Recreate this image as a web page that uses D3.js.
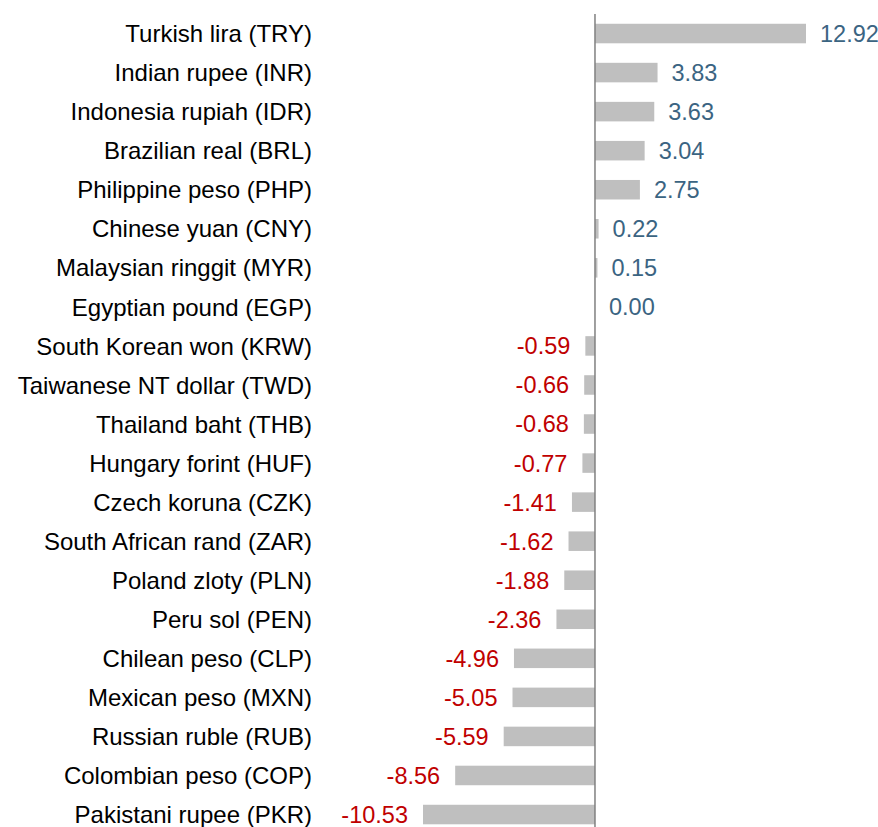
<!DOCTYPE html>
<html>
<head>
<meta charset="utf-8">
<script src="https://cdn.jsdelivr.net/npm/d3@7"></script>
<style>
  body { margin: 0; background: #fff; }
  text { font-family: "Liberation Sans", Arial, sans-serif; }
</style>
</head>
<body>
<div class="chart"></div>
<script>
// currency names and % change, top to bottom
var currencies = [
  "Turkish lira (TRY)", "Indian rupee (INR)", "Indonesia rupiah (IDR)", "Brazilian real (BRL)",
  "Philippine peso (PHP)", "Chinese yuan (CNY)", "Malaysian ringgit (MYR)", "Egyptian pound (EGP)",
  "South Korean won (KRW)", "Taiwanese NT dollar (TWD)", "Thailand baht (THB)", "Hungary forint (HUF)",
  "Czech koruna (CZK)", "South African rand (ZAR)", "Poland zloty (PLN)", "Peru sol (PEN)",
  "Chilean peso (CLP)", "Mexican peso (MXN)", "Russian ruble (RUB)", "Colombian peso (COP)",
  "Pakistani rupee (PKR)"
];
var changes = [
  12.92, 3.83, 3.63, 3.04, 2.75, 0.22, 0.15, 0.00, -0.59, -0.66, -0.68, -0.77,
  -1.41, -1.62, -1.88, -2.36, -4.96, -5.05, -5.59, -8.56, -10.53
];

var svgWidth = 878;
var svgHeight = 827;

var svg = d3.select(".chart")
  .append("svg")
  .attr("width", svgWidth)
  .attr("height", svgHeight);

var data = currencies.map(function(c, i) { return { name: c, value: changes[i] }; });

// scales
var xScale = d3.scaleLinear()
  .domain([d3.min(changes), d3.max(changes)])
  .range([423, 806]);

var yScale = d3.scaleBand()
  .domain(currencies)
  .range([14, 834.05])
  .paddingInner(0.5)
  .paddingOuter(0.25);

// bars
svg.selectAll("rect.bar")
  .data(data)
  .enter()
  .append("rect")
  .attr("class", "bar")
  .attr("x", d => xScale(Math.min(0, d.value)))
  .attr("y", d => yScale(d.name))
  .attr("width", d => Math.abs(xScale(d.value) - xScale(0)))
  .attr("height", yScale.bandwidth())
  .attr("fill", "#bfbfbf");

// zero line
svg.append("line")
  .attr("x1", xScale(0))
  .attr("x2", xScale(0))
  .attr("y1", 14)
  .attr("y2", svgHeight)
  .attr("stroke", "#808080")
  .attr("stroke-width", 1.5);

// category labels
svg.selectAll("text.cat")
  .data(data)
  .enter()
  .append("text")
  .attr("class", "cat")
  .attr("x", 312)
  .attr("y", d => yScale(d.name) + yScale.bandwidth() / 2)
  .attr("dy", "0.36em")
  .attr("text-anchor", "end")
  .style("font-size", "24px")
  .style("fill", "#000")
  .text(d => d.name);

// value labels
svg.selectAll("text.val")
  .data(data)
  .enter()
  .append("text")
  .attr("class", "val")
  .attr("x", d => d.value >= 0 ? xScale(d.value) + 14 : xScale(d.value) - 15)
  .attr("y", d => yScale(d.name) + yScale.bandwidth() / 2)
  .attr("dy", "0.36em")
  .attr("text-anchor", d => d.value >= 0 ? "start" : "end")
  .style("font-size", "23.5px")
  .style("fill", d => d.value >= 0 ? "#3b6482" : "#c00000")
  .text(d => d.value.toFixed(2));
</script>
</body>
</html>
